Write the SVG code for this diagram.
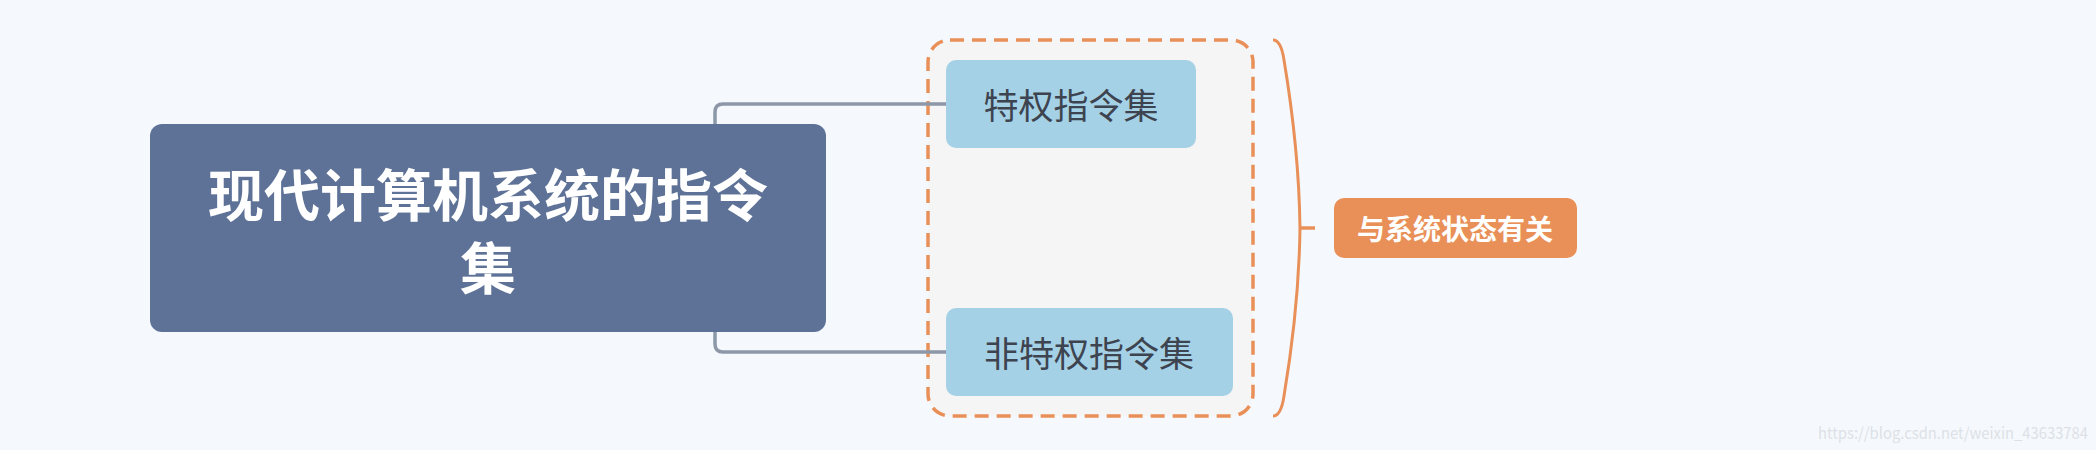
<svg xmlns="http://www.w3.org/2000/svg" width="2096" height="450" viewBox="0 0 2096 450">
<style>
text{font-family:"Noto Sans CJK SC","Noto Sans",sans-serif;text-anchor:middle;dominant-baseline:central}
.sub{fill:#a5d1e6}
.st{fill:#3d4450;font-size:35px}
.conn{fill:none;stroke:#8c97a8;stroke-width:3.5}
</style>
<rect width="2096" height="450" fill="#f5f9fd"/>
<g id="boundary">
<rect x="928" y="40" width="325" height="376" rx="22" fill="#f5f5f5" stroke="#e99058" stroke-width="3.5" stroke-dasharray="14,8"/>
</g>
<g id="connectors">
<path class="conn" d="M715 124 V112 Q715 104 723 104 H946"/>
<path class="conn" d="M715 332 V344 Q715 352 723 352 H946"/>
<path d="M1273 40 Q1281 40 1284 60 Q1299 150 1300 228 Q1299 306 1284 396 Q1281 416 1273 416" fill="none" stroke="#e99058" stroke-width="3"/>
<path d="M1300 228 H1315" stroke="#e99058" stroke-width="3.5"/>
</g>
<g id="main">
<rect x="150" y="124" width="676" height="208" rx="12" fill="#5e7297"/>
<text x="488" y="191" fill="#fff" font-size="56" font-weight="bold">现代计算机系统的指令</text>
<text x="488" y="264" fill="#fff" font-size="56" font-weight="bold">集</text>
</g>
<g id="n1">
<rect class="sub" x="946" y="60" width="250" height="88" rx="10"/>
<text class="st" x="1071" y="103">特权指令集</text>
</g>
<g id="n2">
<rect class="sub" x="946" y="308" width="287" height="88" rx="10"/>
<text class="st" x="1089" y="351">非特权指令集</text>
</g>
<g id="summary">
<rect x="1334" y="198" width="243" height="60" rx="10" fill="#e99058"/>
<text x="1455" y="228" fill="#fff" font-size="28" font-weight="bold">与系统状态有关</text>
</g>
<text x="2088" y="432" fill="#dde1e6" font-size="16" font-family="Liberation Sans,sans-serif" style="text-anchor:end" textLength="270" lengthAdjust="spacingAndGlyphs">https://blog.csdn.net/weixin_43633784</text>
</svg>
